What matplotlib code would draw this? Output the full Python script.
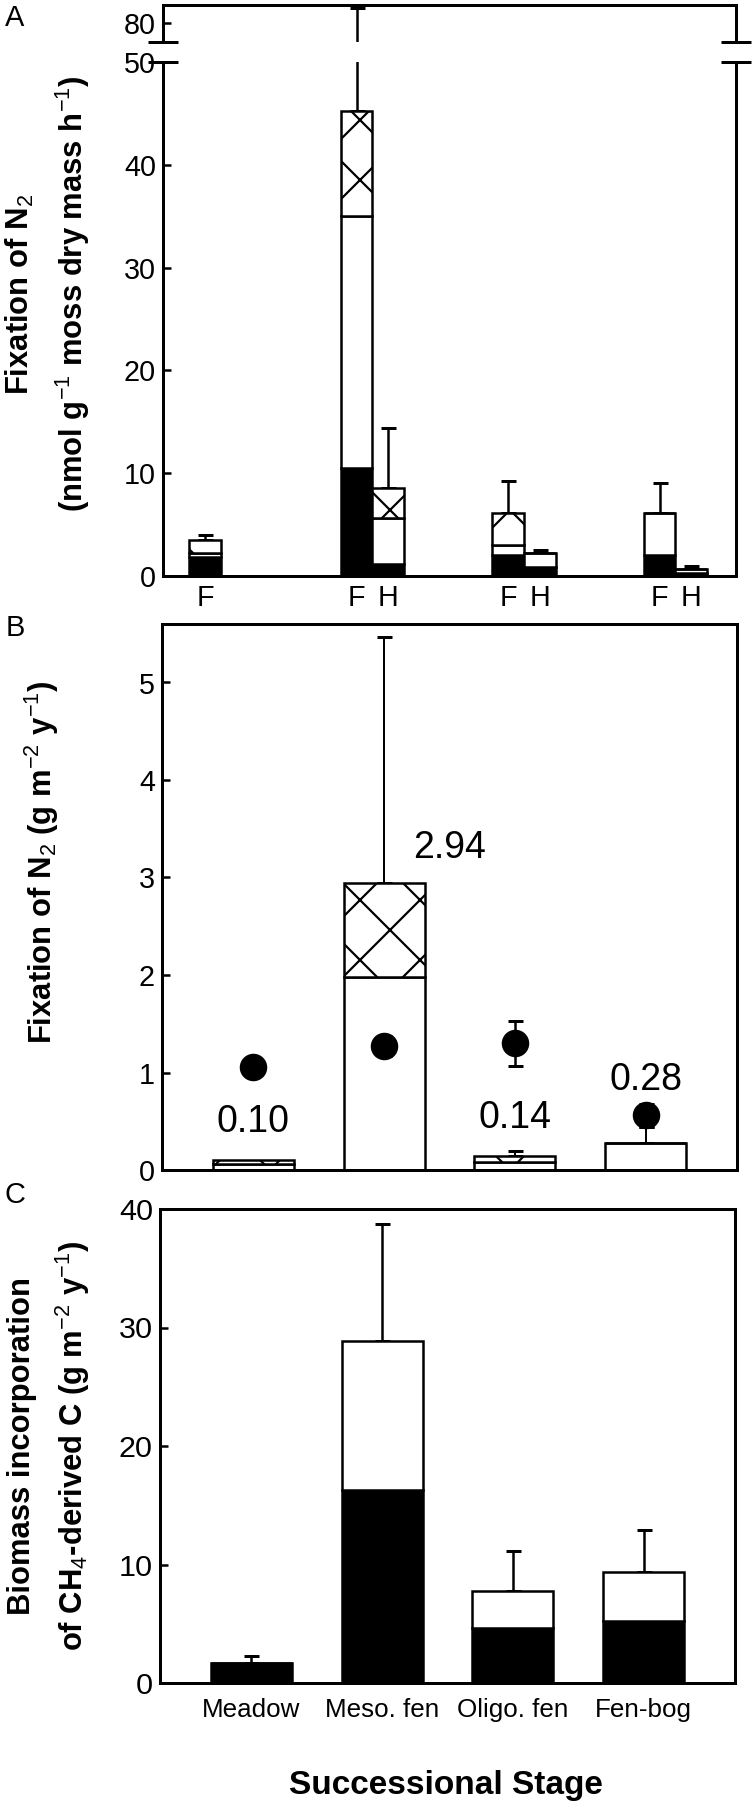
import matplotlib
matplotlib.use('Agg')
import matplotlib.pyplot as plt
import numpy as np

# ---- data ----
stages = ['Meadow', 'Meso. fen', 'Oligo. fen', 'Fen-bog']

# A: N2 fixation per moss dry mass, F and H samples, layers black / white / cross-hatched
a_f_black = [1.8, 10.5, 2.0, 2.0]
a_f_white = [0.4, 24.5, 1.0, 4.1]
a_f_cross = [1.3, 10.2, 3.1, 0.0]
a_f_se = [0.5, 38.7, 3.1, 2.9]
a_h_stage = [1, 2, 3]
a_h_black = [1.2, 0.9, 0.3]
a_h_white = [4.4, 1.3, 0.4]
a_h_cross = [3.0, 0.0, 0.0]
a_h_se = [5.8, 0.3, 0.3]

# B: areal N2 fixation, bars (white / cross-hatched) and dots
b_white = [0.06, 1.98, 0.08, 0.28]
b_cross = [0.04, 0.96, 0.06, 0.0]
b_se = [0.0, 2.53, 0.05, 0.16]
b_dots = [1.06, 1.27, 1.30, 0.56]
b_dots_se = [0.0, 0.10, 0.23, 0.12]

# C: biomass incorporation of CH4-derived C, layers black / white
c_black = [1.7, 16.3, 4.6, 5.25]
c_white = [0.0, 12.6, 3.2, 4.15]
c_se = [0.6, 9.8, 3.3, 3.5]

# ---- style ----
DPI = 180  # hatch spacing is dpi/6 px, ~30 px as in the original
W, H = 752, 1803
P = 72 / DPI  # points per pixel, sizes below are given in pixels


def pt(px):
    return px * P


plt.rcParams['font.family'] = ['Liberation Sans', 'DejaVu Sans']
plt.rcParams['mathtext.fontset'] = 'custom'
plt.rcParams['mathtext.rm'] = 'Liberation Sans'
plt.rcParams['mathtext.it'] = 'Liberation Sans'
plt.rcParams['mathtext.bf'] = 'Liberation Sans:bold'
plt.rcParams['hatch.linewidth'] = pt(2.2)

fig = plt.figure(figsize=(W / DPI, H / DPI), dpi=DPI)


def box(l, t, r, b):
    return [l / W, 1 - b / H, (r - l) / W, (b - t) / H]


def style(ax, fs=28.75):
    for s in ax.spines.values():
        s.set_linewidth(pt(3))
    ax.tick_params(axis='y', direction='in', length=pt(8), width=pt(2.5),
                   labelsize=pt(fs), pad=pt(7), right=False)
    ax.tick_params(axis='x', length=0, labelsize=pt(fs))


def stack(ax, x, layers, fills, hatches, width):
    bottom = np.zeros(len(x))
    for vals, fc, hh in zip(layers, fills, hatches):
        vals = np.asarray(vals, dtype=float)
        ax.bar(x, vals, width, bottom=bottom, color=fc, edgecolor='black',
               linewidth=pt(2.5), hatch=hh, zorder=2)
        bottom = bottom + vals
    return bottom


def upper_err(ax, x, top, se, lw=2.5):
    x = np.asarray(x, dtype=float)
    se = np.asarray(se, dtype=float)
    keep = se > 0
    ax.errorbar(x[keep], np.asarray(top)[keep], yerr=[np.zeros(keep.sum()), se[keep]],
                fmt='none', ecolor='black', elinewidth=pt(lw), capsize=pt(7.5),
                capthick=pt(3), zorder=1)


# ================= Panel A (broken axis) =================
axA_top = fig.add_axes(box(163, 5, 736, 42))
axA = fig.add_axes(box(163, 62, 736, 576))
pos = np.arange(len(stages))
off, bw = 0.105, 0.21
xf = pos - off
xh = np.array(a_h_stage) + off

for ax in (axA, axA_top):
    style(ax)
    tf = stack(ax, xf, [a_f_black, a_f_white, a_f_cross], ['black', 'white', 'white'],
               [None, None, 'x'], bw)
    th = stack(ax, xh, [a_h_black, a_h_white, a_h_cross], ['black', 'white', 'white'],
               [None, None, 'x'], bw)
    upper_err(ax, xf, tf, a_f_se)
    upper_err(ax, xh, th, a_h_se)
    ax.set_xlim(-0.383, 3.40)

axA.set_ylim(0, 50)
axA.set_yticks([0, 10, 20, 30, 40, 50])
axA.spines['top'].set_visible(False)
axA.set_xticks(list(xf) + list(xh))
axA.set_xticklabels(['F'] * len(xf) + ['H'] * len(xh))
axA.tick_params(axis='x', pad=pt(8))

axA_top.set_ylim(75, 84.7)
axA_top.set_yticks([80])
axA_top.set_xticks([])
axA_top.spines['bottom'].set_visible(False)

for ax, yy in ((axA, 1.0), (axA_top, 0.0)):
    for xx in (0.0, 1.0):
        ax.plot([xx - 0.027, xx + 0.027], [yy, yy], transform=ax.transAxes,
                color='black', lw=pt(3), clip_on=False, solid_capstyle='butt')

# ================= Panel B =================
axB = fig.add_axes(box(162, 624, 737, 1170))
style(axB)
xb = np.arange(len(stages))
tb = stack(axB, xb, [b_white, b_cross], ['white', 'white'], [None, 'x'], 0.62)
upper_err(axB, xb, tb, b_se, lw=2.0)
ds = np.asarray(b_dots_se)
k = ds > 0
axB.errorbar(xb[k], np.asarray(b_dots)[k], yerr=ds[k], fmt='none', ecolor='black',
             elinewidth=pt(2.5), capsize=pt(7.5), capthick=pt(3), zorder=3)
axB.plot(xb, b_dots, 'o', color='black', ms=pt(25), zorder=4)
label_y = [0.49, 3.30, 0.53, 0.92]
label_dx = [0, 0.5, 0, 0]
for i, t in enumerate(tb):
    axB.text(xb[i] + label_dx[i], label_y[i], f'{t:.2f}', ha='center', va='center',
             fontsize=pt(37.5))
axB.set_xlim(-0.7, 3.7)
axB.set_ylim(0, 5.6)
axB.set_yticks([0, 1, 2, 3, 4, 5])
axB.set_xticks([])

# ================= Panel C =================
axC = fig.add_axes(box(160, 1209, 735, 1683))
style(axC, fs=30.5)
xc = np.arange(len(stages))
tc = stack(axC, xc, [c_black, c_white], ['black', 'white'], [None, None], 0.62)
upper_err(axC, xc, tc, c_se)
axC.set_xlim(-0.7, 3.7)
axC.set_ylim(0, 40)
axC.set_yticks([0, 10, 20, 30, 40])
axC.set_xticks(xc)
axC.set_xticklabels(stages, fontsize=pt(26))
axC.tick_params(axis='x', pad=pt(15))

# ================= labels =================
bold = dict(fontweight='bold', fontsize=pt(31), rotation=90, ha='center', va='center',
            multialignment='center')
fig.text(20 / W, 1 - 294 / H, r'Fixation of N$_2$', **bold)
fig.text(73 / W, 1 - 294 / H, r'(nmol g$^{-1}$ moss dry mass h$^{-1}$)', **bold)
fig.text(42 / W, 1 - 862 / H, r'Fixation of N$_2$ (g m$^{-2}$ y$^{-1}$)', **bold)
fig.text(22 / W, 1 - 1446 / H, 'Biomass incorporation', **bold)
fig.text(73 / W, 1 - 1446 / H, r'of CH$_4$-derived C (g m$^{-2}$ y$^{-1}$)', **bold)
fig.text(446 / W, 1 - 1785 / H, 'Successional Stage', fontweight='bold',
         fontsize=pt(33.5), ha='center', va='center')

for lab, yy in (('A', 18), ('B', 628), ('C', 1195)):
    fig.text(15 / W, 1 - yy / H, lab, fontsize=pt(29), ha='center', va='center')

fig.savefig('out.png', dpi=DPI)
